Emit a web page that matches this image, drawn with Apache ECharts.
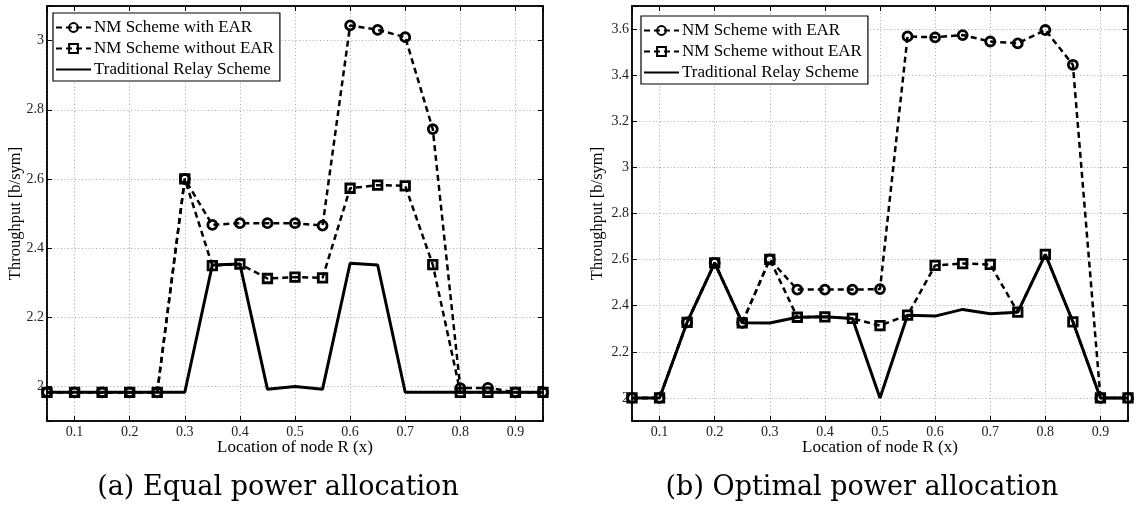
<!DOCTYPE html>
<html>
<head>
<meta charset="utf-8">
<script src="https://cdn.jsdelivr.net/npm/echarts@6/dist/echarts.min.js"></script>
<style>
  html, body { margin: 0; padding: 0; background: #fff; }
  #chart { width: 1140px; height: 506px; }
</style>
</head>
<body>
<div id="chart"></div>
<script>
// Relay location x along the S–D line
const locations = [0.05, 0.1, 0.15, 0.2, 0.25, 0.3, 0.35, 0.4, 0.45, 0.5,
                   0.55, 0.6, 0.65, 0.7, 0.75, 0.8, 0.85, 0.9, 0.95];

// (a) Equal power allocation
const equalWithEAR = [1.983, 1.983, 1.983, 1.983, 1.983, 2.600, 2.467, 2.472, 2.472, 2.472,
                      2.465, 3.044, 3.031, 3.010, 2.744, 1.995, 1.996, 1.983, 1.983];
const equalWithoutEAR = [1.983, 1.983, 1.983, 1.983, 1.983, 2.600, 2.349, 2.354, 2.312, 2.316,
                         2.314, 2.573, 2.582, 2.580, 2.352, 1.983, 1.983, 1.983, 1.983];
const equalTraditional = [1.983, 1.983, 1.983, 1.983, 1.983, 1.983, 2.351, 2.354, 1.992, 2.000,
                          1.992, 2.356, 2.351, 1.983, 1.983, 1.983, 1.983, 1.983, 1.983];

// (b) Optimal power allocation
const optimalWithEAR = [2.000, 2.000, 2.328, 2.586, 2.326, 2.601, 2.470, 2.470, 2.470, 2.472,
                        3.568, 3.564, 3.574, 3.546, 3.538, 3.596, 3.445, 2.000, 2.000];
const optimalWithoutEAR = [2.000, 2.000, 2.328, 2.586, 2.326, 2.601, 2.350, 2.352, 2.345, 2.314,
                           2.359, 2.575, 2.583, 2.579, 2.372, 2.623, 2.330, 2.000, 2.000];
const optimalTraditional = [2.000, 2.000, 2.328, 2.586, 2.326, 2.325, 2.350, 2.352, 2.345, 2.000,
                            2.359, 2.355, 2.384, 2.365, 2.372, 2.623, 2.330, 2.000, 2.000];

const seriesNames = ['NM Scheme with EAR', 'NM Scheme without EAR', 'Traditional Relay Scheme'];
const panelTitles = ['(a) Equal power allocation', '(b) Optimal power allocation'];
const xAxisTitle = 'Location of node R (x)';
const yAxisTitle = 'Throughput [b/sym]';

const FONT = 'Liberation Serif';
const pair = (ys) => locations.map((x, i) => [x, ys[i]]);

function isMultiple(v, step) {
  const q = v / step;
  return Math.abs(q - Math.round(q)) < 1e-6;
}

const gridLine = { show: true, lineStyle: { color: '#a8a8a8', type: [1, 2.5], width: 1 } };

function xAxes(gridIndex) {
  const base = {
    type: 'value', gridIndex, min: 0.05, max: 0.95, splitNumber: 9,
    axisLine: { show: true, onZero: false, lineStyle: { color: '#000', width: 1.5 } },
    axisTick: { show: true, inside: true, length: 5, lineStyle: { color: '#000' } }
  };
  return [
    Object.assign({}, base, {
      position: 'bottom',
      name: xAxisTitle, nameLocation: 'middle', nameGap: 18, nameMoveOverlap: false,
      nameTextStyle: { fontFamily: FONT, fontSize: 17, color: '#000' },
      splitLine: gridLine,
      axisLabel: {
        fontFamily: FONT, fontSize: 14, color: '#222', margin: 4,
        formatter: v => isMultiple(v, 0.1) ? String(+v.toFixed(1)) : ''
      }
    }),
    Object.assign({}, base, {
      position: 'top', splitLine: { show: false }, axisLabel: { show: false }
    })
  ];
}

function yAxes(gridIndex, min, max, splitNumber, nameGap) {
  const base = {
    type: 'value', gridIndex, min, max, splitNumber,
    axisLine: { show: true, onZero: false, lineStyle: { color: '#000', width: 1.5 } },
    axisTick: { show: true, inside: true, length: 5, lineStyle: { color: '#000' } }
  };
  return [
    Object.assign({}, base, {
      position: 'left',
      name: yAxisTitle, nameLocation: 'middle', nameGap, nameMoveOverlap: false,
      nameTextStyle: { fontFamily: FONT, fontSize: 16.5, color: '#000' },
      splitLine: gridLine,
      axisLabel: {
        fontFamily: FONT, fontSize: 14, color: '#222', margin: 3,
        formatter: v => isMultiple(v, 0.2) ? String(+v.toFixed(1)) : ''
      }
    }),
    Object.assign({}, base, {
      position: 'right', splitLine: { show: false }, axisLabel: { show: false }
    })
  ];
}

const dashed = { color: '#000', width: 2.5, type: [6, 4] };
const markerStyle = { color: 'rgba(255,255,255,0)', borderColor: '#000', borderWidth: 2.8 };

function panelSeries(axisIndex, withEAR, withoutEAR, traditional) {
  return [
    {
      name: seriesNames[0], type: 'line', xAxisIndex: axisIndex, yAxisIndex: axisIndex,
      data: pair(withEAR), symbol: 'circle', symbolSize: 9, z: 4,
      lineStyle: dashed, itemStyle: markerStyle, animation: false
    },
    {
      name: seriesNames[1], type: 'line', xAxisIndex: axisIndex, yAxisIndex: axisIndex,
      data: pair(withoutEAR), symbol: 'rect', symbolSize: 8.5, z: 3,
      lineStyle: dashed, itemStyle: markerStyle, animation: false
    },
    {
      name: seriesNames[2], type: 'line', xAxisIndex: axisIndex, yAxisIndex: axisIndex,
      data: pair(traditional), symbol: 'none', z: 2,
      lineStyle: { color: '#000', width: 3, type: 'solid' },
      itemStyle: { color: 'rgba(0,0,0,0)' }, animation: false
    }
  ];
}

function legendAt(left, top) {
  return {
    left, top, orient: 'vertical', data: seriesNames,
    backgroundColor: '#fff', borderColor: '#000', borderWidth: 1.2,
    padding: [6, 6, 3, 2], itemGap: 4, itemWidth: 35, itemHeight: 11,
    textStyle: { fontFamily: FONT, fontSize: 17, color: '#000', padding: [0, 0, 0, -2] }
  };
}

const chart = echarts.init(document.getElementById('chart'), null, { renderer: 'canvas' });
chart.setOption({
  backgroundColor: '#fff',
  animation: false,
  grid: [
    { left: 47, top: 6, width: 496, height: 415, show: true, borderColor: '#000', borderWidth: 1.5 },
    { left: 632, top: 6, width: 496, height: 415, show: true, borderColor: '#000', borderWidth: 1.5 }
  ],
  xAxis: [...xAxes(0), ...xAxes(1)],
  yAxis: [...yAxes(0, 1.9, 3.1, 6, 23), ...yAxes(1, 1.9, 3.7, 9, 26)],
  legend: [legendAt(53, 13), legendAt(641, 16)],
  series: [
    ...panelSeries(0, equalWithEAR, equalWithoutEAR, equalTraditional),
    ...panelSeries(2, optimalWithEAR, optimalWithoutEAR, optimalTraditional)
  ],
  graphic: [
    { type: 'text', x: 278, y: 488, style: { text: panelTitles[0], font: '27px "DejaVu Serif"', fill: '#000', align: 'center', verticalAlign: 'middle' } },
    { type: 'text', x: 862, y: 488, style: { text: panelTitles[1], font: '27px "DejaVu Serif"', fill: '#000', align: 'center', verticalAlign: 'middle' } }
  ]
});
</script>
</body>
</html>
